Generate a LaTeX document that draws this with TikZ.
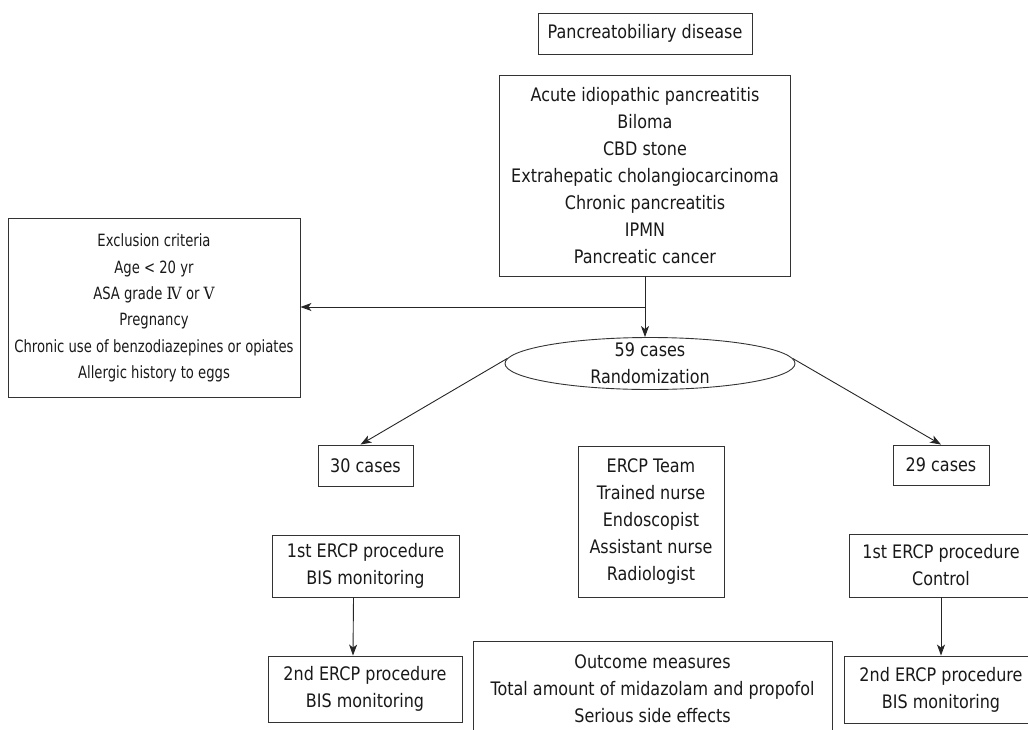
\documentclass[tikz,border=0pt]{standalone}
\usepackage{fontspec}
\setmainfont[FakeStretch=0.86]{DejaVu Sans}
\newfontfamily\exclfont[FakeStretch=0.78]{DejaVu Sans}
\newfontfamily\romfont[FakeStretch=0.9]{DejaVu Serif}
\usetikzlibrary{arrows.meta, shapes.geometric}

\tikzset{
    box/.style={draw=black!80, line width=0.9pt, align=center, inner sep=0pt, text=black!90,
        font=\fontsize{18.6}{27}\selectfont},
    link/.style={-{Stealth[length=11pt, width=8pt, inset=3pt]}, draw=black!85, line width=0.9pt}
}

\begin{document}
\begin{tikzpicture}[x=1pt, y=-1pt]
    \useasboundingbox (0,0) rectangle (1028,729);
    % top of the chart
    \node [box, minimum width=214, minimum height=41] (top) at (645,33.5) {Pancreatobiliary disease};
    \node [box, minimum width=291, minimum height=201] (dis) at (645,175.5) {Acute idiopathic pancreatitis\\Biloma\\CBD stone\\Extrahepatic cholangiocarcinoma\\Chronic pancreatitis\\IPMN\\Pancreatic cancer};
    \node [box, minimum width=292, minimum height=179, font=\exclfont\fontsize{16.9}{26.3}\selectfont] (excl) at (154,308) {Exclusion criteria\\Age < 20 yr\\ASA grade {\romfont Ⅳ} or {\romfont Ⅴ}\\Pregnancy\\Chronic use of benzodiazepines or opiates\\Allergic history to eggs};
    \node [box, ellipse, minimum width=290, minimum height=52, inner ysep=-4pt] (rand) at (650,363.5) {59 cases\\Randomization};
    % the two arms
    \node [box, minimum width=95, minimum height=41] (c30) at (365.5,465.5) {30 cases};
    \node [box, minimum width=96, minimum height=40] (c29) at (941,465) {29 cases};
    \node [box, minimum width=146, minimum height=151] (team) at (651,521.5) {ERCP Team\\Trained nurse\\Endoscopist\\Assistant nurse\\Radiologist};
    \node [box, minimum width=187, minimum height=62] (l1) at (365.5,566) {1st ERCP procedure\\BIS monitoring};
    \node [box, minimum width=194, minimum height=66] (l2) at (365,689) {2nd ERCP procedure\\BIS monitoring};
    \node [box, minimum width=184, minimum height=63] (r1) at (941,565.5) {1st ERCP procedure\\Control};
    \node [box, minimum width=194, minimum height=67] (r2) at (941,689.5) {2nd ERCP procedure\\BIS monitoring};
    \node [box, minimum width=359, minimum height=95] (outc) at (652.5,688.5) {Outcome measures\\Total amount of midazolam and propofol\\Serious side effects};
    % connectors
    \coordinate (split) at (645,307);
    \draw [link] (dis.south) -- (dis.south |- rand.north);
    \draw [link] (split) -- (split -| excl.east);
    \draw [link] (rand.178) -- ([xshift=-5]c30.north);
    \draw [link] (rand.2) -- (c29.north);
    \draw [link] ([xshift=-12]l1.south) -- ([xshift=-12]l2.north);
    \draw [link] (r1.south) -- (r2.north);
\end{tikzpicture}
\end{document}
